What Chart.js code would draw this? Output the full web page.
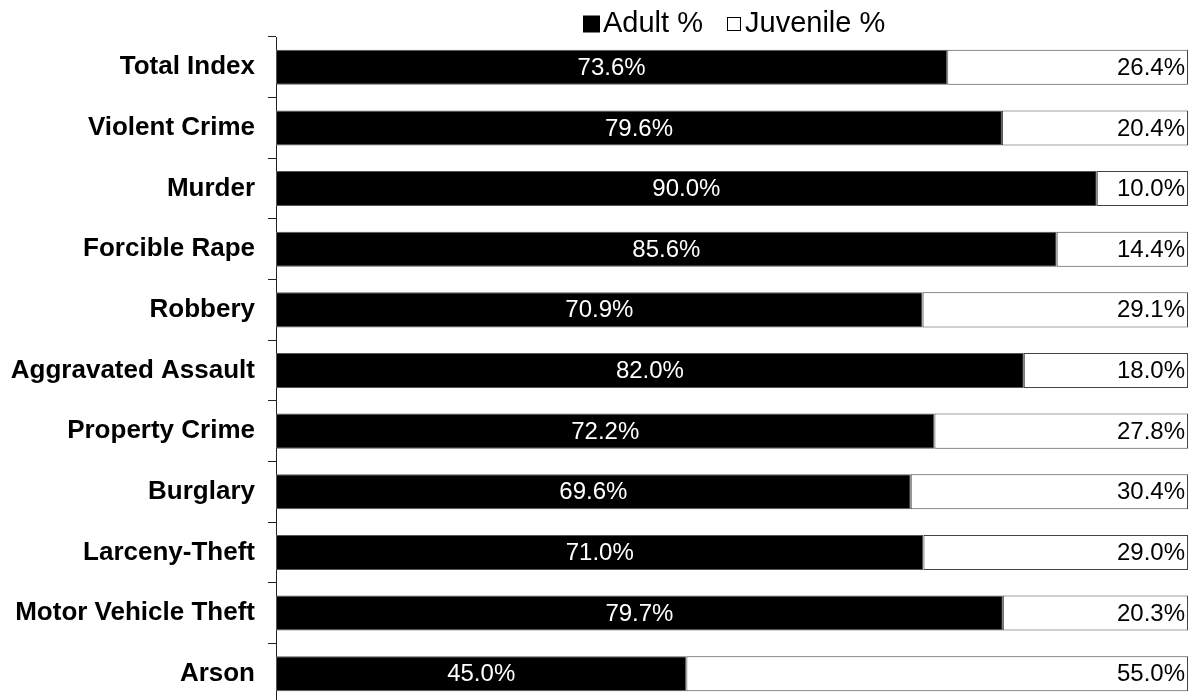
<!DOCTYPE html>
<html>
<head>
<meta charset="utf-8">
<script src="https://cdn.jsdelivr.net/npm/chart.js@4.4.0/dist/chart.umd.min.js"></script>
<style>
  html, body { margin: 0; padding: 0; background: #fff; }
  #wrap { width: 1195px; height: 700px; overflow: hidden; }
  #box { width: 1195px; height: 704px; }
</style>
</head>
<body>
<div id="wrap"><div id="box"><canvas id="crimeChart"></canvas></div></div>
<script>
// Adult vs juvenile share of arrests
const categories = ['Total Index', 'Violent Crime', 'Murder', 'Forcible Rape', 'Robbery',
    'Aggravated Assault', 'Property Crime', 'Burglary', 'Larceny-Theft', 'Motor Vehicle Theft', 'Arson'];
const adultPct = [73.6, 79.6, 90.0, 85.6, 70.9, 82.0, 72.2, 69.6, 71.0, 79.7, 45.0];
const juvenilePct = [26.4, 20.4, 10.0, 14.4, 29.1, 18.0, 27.8, 30.4, 29.0, 20.3, 55.0];
const seriesNames = ['Adult %', 'Juvenile %'];

const FONT = '"Liberation Sans", Arial, sans-serif';

// value labels: white centred in the adult bar, black right-aligned in the juvenile bar
const barLabels = {
    id: 'barLabels',
    afterDatasetsDraw(chart) {
        let ctx = chart.ctx;
        ctx.save();
        ctx.font = '24px ' + FONT;
        ctx.textBaseline = 'middle';
        chart.data.datasets.forEach((ds, di) => {
            chart.getDatasetMeta(di).data.forEach((bar, i) => {
                let txt = ds.data[i].toFixed(1) + '%';
                if (di === 0) {
                    ctx.fillStyle = '#fff';
                    ctx.textAlign = 'center';
                    ctx.fillText(txt, (bar.base + bar.x) / 2, bar.y + 1);
                } else {
                    ctx.fillStyle = '#000';
                    ctx.textAlign = 'right';
                    ctx.fillText(txt, bar.x - 3, bar.y + 1);
                }
            });
        });
        ctx.restore();
    }
};

// legend drawn by hand so it sits where the original one does
const topLegend = {
    id: 'topLegend',
    afterDraw(chart) {
        let ctx = chart.ctx;
        ctx.save();
        ctx.font = '29px ' + FONT;
        ctx.textBaseline = 'middle';
        ctx.textAlign = 'left';
        let y = 24;
        let x = 583;
        // Adult box
        ctx.fillStyle = '#000';
        ctx.fillRect(x, y - 8.5, 17, 17);
        ctx.fillText(seriesNames[0], x + 20, y);
        x = 727;
        // Juvenile box
        ctx.fillStyle = '#fff';
        ctx.fillRect(x + 0.5, y - 6.5, 13, 13);
        ctx.strokeStyle = '#000';
        ctx.lineWidth = 1;
        ctx.strokeRect(x + 0.5, y - 6.5, 13, 13);
        ctx.fillStyle = '#000';
        ctx.fillText(seriesNames[1], x + 18, y);
        ctx.restore();
    }
};

new Chart(document.getElementById('crimeChart'), {
    type: 'bar',
    data: {
        labels: categories,
        datasets: [{
            label: seriesNames[0],
            data: adultPct,
            backgroundColor: '#000',
            borderColor: '#555',
            borderWidth: 1,
            borderSkipped: false,
            barPercentage: 0.578,
            categoryPercentage: 1
        }, {
            label: seriesNames[1],
            data: juvenilePct,
            backgroundColor: '#fff',
            borderColor: '#444',
            borderWidth: 1,
            borderSkipped: false,
            barPercentage: 0.578,
            categoryPercentage: 1
        }]
    },
    options: {
        indexAxis: 'y',
        responsive: true,
        maintainAspectRatio: false,
        animation: false,
        layout: {
            padding: { top: 37, right: 7, bottom: 0, left: 0 }
        },
        plugins: {
            legend: { display: false },
            tooltip: { enabled: false }
        },
        scales: {
            x: {
                stacked: true,
                display: false,
                min: 0,
                max: 100
            },
            y: {
                stacked: true,
                afterFit: (scale) => {
                    scale.width = 276;
                    scale.paddingTop = 0;
                    scale.paddingBottom = 0;
                },
                border: { display: true, color: '#222', width: 1 },
                grid: {
                    offset: true,
                    drawOnChartArea: false,
                    drawTicks: true,
                    tickLength: 8,
                    color: '#222'
                },
                ticks: {
                    color: '#000',
                    padding: 13,
                    font: { family: FONT, size: 26, weight: 'bold' }
                }
            }
        }
    },
    plugins: [barLabels, topLegend]
});
</script>
</body>
</html>
